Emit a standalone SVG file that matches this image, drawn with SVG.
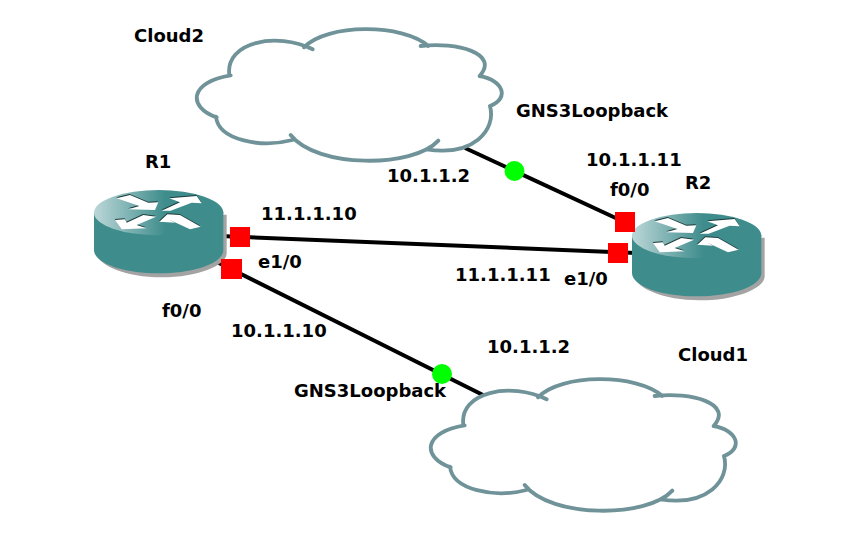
<svg xmlns="http://www.w3.org/2000/svg" xmlns:xlink="http://www.w3.org/1999/xlink" width="861" height="556" viewBox="0 0 861 556">
<style>
text{font-family:"DejaVu Sans","Liberation Sans",sans-serif;font-weight:700;font-size:18px;fill:#000}
.link{stroke:#000;stroke-width:4;fill:none}
.port{fill:#f00}
.dot{fill:#0f0}
.cl{fill:#fff;stroke:none}
.cs{fill:none;stroke:#6f9398;stroke-width:11.500;stroke-linecap:round}
</style>
<defs>
<linearGradient id="top" x1="0" x2="1" y1="0" y2="0"><stop offset="0" stop-color="#bcd7d8"/><stop offset=".55" stop-color="#3f8c8c"/><stop offset="1" stop-color="#3f8c8c"/></linearGradient>
<g id="cloud" transform="scale(.3333)">
<path class="cl" d="M372 82C440 10 670 10 740 75C830 65 960 100 900 168C970 180 990 235 930 258C950 330 880 410 740 388C700 445 410 445 335 360C240 385 115 360 108 290C20 260 30 185 150 165C135 65 290 35 372 82Z"/>
<path class="cs" d="M372 82C440 10 670 10 745 78M722 78C830 65 960 100 899 168M899 168C970 180 990 235 930 258M930 258C950 330 880 410 740 388M775 362C700 445 410 445 332 345M338 360C240 385 115 360 108 290M110 292C20 260 30 185 152 166M148 165C135 65 290 35 398 88"/>
</g>
<path id="arrows" d="M110 85L150 75L205 98L235 97L225 120L145 118L178 108ZM245 122L300 97L268 85L350 78L365 100L335 98L272 122ZM105 150L125 178L200 175L170 165L228 140L190 135L140 158L135 148ZM238 155L262 133L300 135L362 170L330 178L270 150L285 158Z"/>
<g id="router" transform="scale(.3333)">
<path fill="#a3a3a3" d="M52 134V250C52 285 135 322 245 322S440 285 440 250V134Z"/>
<path fill="#3f8c8c" d="M42 125V240C42 280 130 310 236 310S430 280 430 240V125Z"/>
<ellipse cx="236" cy="128" rx="194" ry="68" fill="url(#top)"/>
<use xlink:href="#arrows" href="#arrows" fill="#1c3b3b" transform="translate(-1 -3)"/>
<use xlink:href="#arrows" href="#arrows" fill="#fff"/>
</g>
</defs>
<g id="connectors">
<line class="link" x1="220" y1="236" x2="636" y2="253"/>
<line class="link" x1="217" y1="262" x2="485" y2="396"/>
<line class="link" x1="465" y1="148" x2="620" y2="220"/>
</g>
<g id="Cloud2"><use xlink:href="#cloud" href="#cloud" transform="translate(180 20)"/><text x="134" y="42">Cloud2</text></g>
<g id="Cloud1"><use xlink:href="#cloud" href="#cloud" transform="translate(414 370)"/><text x="678" y="361">Cloud1</text></g>
<g id="R1"><use xlink:href="#router" href="#router" transform="translate(80 170)"/><text x="145" y="168">R1</text></g>
<g id="R2"><use xlink:href="#router" href="#router" transform="translate(618 193)"/><text x="685" y="189">R2</text></g>
<g id="ports">
<rect class="port" x="230" y="227" width="20" height="20"/>
<rect class="port" x="221" y="259" width="21" height="20"/>
<rect class="port" x="615" y="212" width="20" height="20"/>
<rect class="port" x="608" y="243" width="20" height="20"/>
<circle class="dot" cx="514.500" cy="171" r="10"/>
<circle class="dot" cx="442" cy="374" r="10"/>
</g>
<g id="labels">
<text x="516" y="117">GNS3Loopback</text>
<text x="387" y="182">10.1.1.2</text>
<text x="586" y="166">10.1.1.11</text>
<text x="610" y="196">f0/0</text>
<text x="261" y="220">11.1.1.10</text>
<text x="258" y="268">e1/0</text>
<text x="455" y="281">11.1.1.11</text>
<text x="564" y="285">e1/0</text>
<text x="162" y="317">f0/0</text>
<text x="231" y="337">10.1.1.10</text>
<text x="487" y="353">10.1.1.2</text>
<text x="294" y="397">GNS3Loopback</text>
</g>
</svg>
